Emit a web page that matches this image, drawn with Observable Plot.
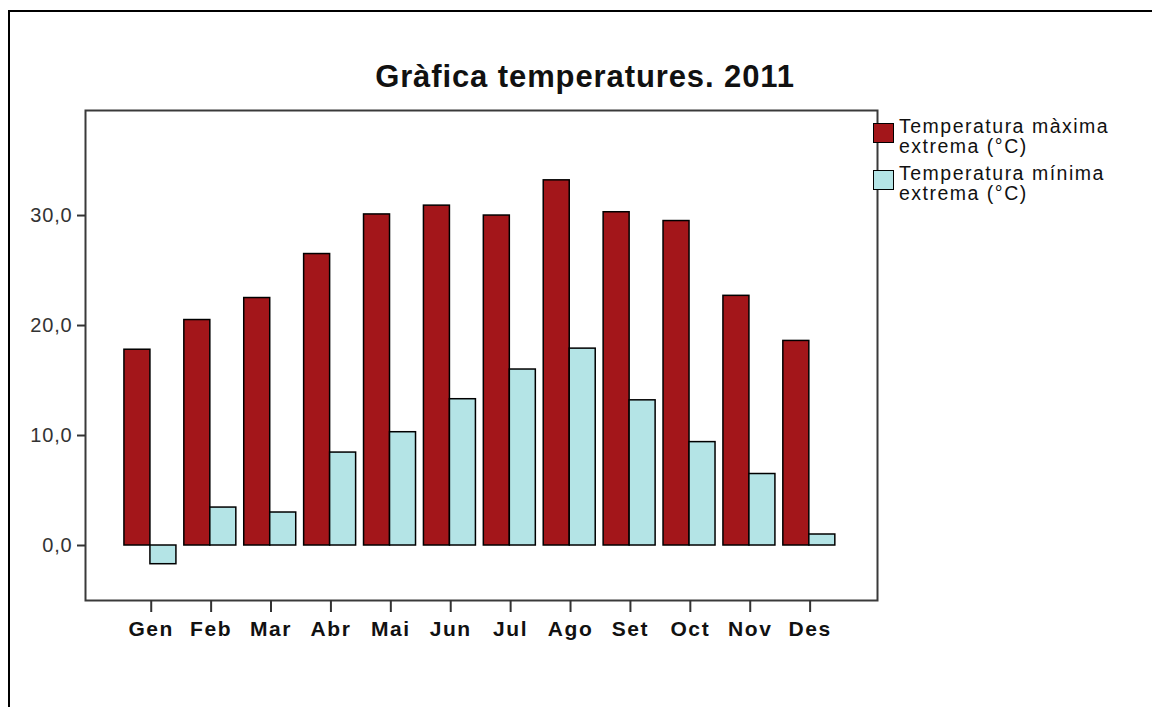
<!DOCTYPE html>
<html>
<head>
<meta charset="utf-8">
<script src="https://cdn.jsdelivr.net/npm/d3@7"></script>
<script src="https://cdn.jsdelivr.net/npm/@observablehq/plot@0.6"></script>
<style>
  html, body { margin: 0; padding: 0; background: #fff; }
  body { width: 1152px; height: 707px; position: relative; overflow: hidden; font-family: "Liberation Sans", Arial, sans-serif; }
  #border { position: absolute; left: 8px; top: 10px; width: 1300px; height: 900px; border-left: 2px solid #000; border-top: 2px solid #000; }
  #title { position: absolute; left: 0; width: 1170px; top: 59px; text-align: center; font-size: 31px; font-weight: bold; letter-spacing: 0.9px; color: #111; }
  #chart { position: absolute; left: 0; top: 0; }
  #legend { position: absolute; left: 873px; top: 116px; font-size: 19.5px; letter-spacing: 1.5px; line-height: 20px; color: #111; }
  .item { display: flex; align-items: flex-start; margin-bottom: 7px; }
  .sw { width: 19px; height: 18px; border: 1.5px solid #000; margin-top: 7px; margin-right: 5px; flex: none; }
  .yax text { letter-spacing: 0.8px; }
  .xax text { letter-spacing: 1.6px; }
</style>
</head>
<body>
<div id="border"></div>
<div id="chart"></div>
<div id="title">Gràfica temperatures. 2011</div>
<div id="legend"></div>
<script>
const months = ["Gen","Feb","Mar","Abr","Mai","Jun","Jul","Ago","Set","Oct","Nov","Des"];
const maxTemps = [17.8, 20.5, 22.5, 26.5, 30.1, 30.9, 30.0, 33.2, 30.3, 29.5, 22.7, 18.6];
const minTemps = [-1.7, 3.45, 3.0, 8.45, 10.3, 13.3, 16.0, 17.9, 13.2, 9.4, 6.5, 1.0];
const yTicks = [0, 10, 20, 30];
const seriesNames = ["Temperatura màxima extrema (°C)", "Temperatura mínima extrema (°C)"];
const legendLines = [["Temperatura màxima", "extrema (°C)"], ["Temperatura mínima", "extrema (°C)"]];
const colors = ["#a3161a", "#b4e4e6"];

const maxRows = months.map((m, i) => ({month: m, series: seriesNames[0], value: maxTemps[i]}));
const minRows = months.map((m, i) => ({month: m, series: seriesNames[1], value: minTemps[i]}));

const W = 1152, H = 707;
const mL = 85, mR = 275, mT = 110, mB = 107;
const pInner = 0.132, pOuter = 0.677;
const step = (W - mL - mR) / (months.length - pInner + 2 * pOuter);
const half = step * (1 - pInner) / 2;

const plot = Plot.plot({
  width: W, height: H,
  marginLeft: mL, marginRight: mR, marginTop: mT, marginBottom: mB,
  style: {fontFamily: "'Liberation Sans', Arial, sans-serif", background: "transparent"},
  x: {type: "band", domain: months, paddingInner: pInner, paddingOuter: pOuter, round: false, align: 0.48},
  y: {domain: [-5, 39.55]},
  color: {domain: seriesNames, range: colors},
  marks: [
    Plot.barY(maxRows, {x: "month", y: "value", fill: "series", stroke: "#000", strokeWidth: 1.5, insetRight: half}),
    Plot.barY(minRows, {x: "month", y: "value", fill: "series", stroke: "#000", strokeWidth: 1.5, insetLeft: half}),
    Plot.frame({stroke: "#3a3a3a", strokeWidth: 2}),
    Plot.axisY(yTicks, {tickSize: 8, tickPadding: 5, tickFormat: d => d.toFixed(1).replace(".", ","), fontSize: 20, fill: "#333", stroke: "#333", strokeWidth: 2, label: null, className: "yax"}),
    Plot.axisX({tickSize: 12, tickPadding: 9, fontSize: 21, fontWeight: "bold", fill: "#111", stroke: "#333", strokeWidth: 2, label: null, dx: 0.8, className: "xax"})
  ]
});
document.getElementById("chart").appendChild(plot);

const legend = document.getElementById("legend");
seriesNames.forEach((s, i) => {
  const item = document.createElement("div");
  item.className = "item";
  const sw = document.createElement("div");
  sw.className = "sw";
  sw.style.background = colors[i];
  const txt = document.createElement("div");
  txt.innerHTML = legendLines[i].join("<br>");
  item.appendChild(sw);
  item.appendChild(txt);
  legend.appendChild(item);
});
</script>
</body>
</html>
